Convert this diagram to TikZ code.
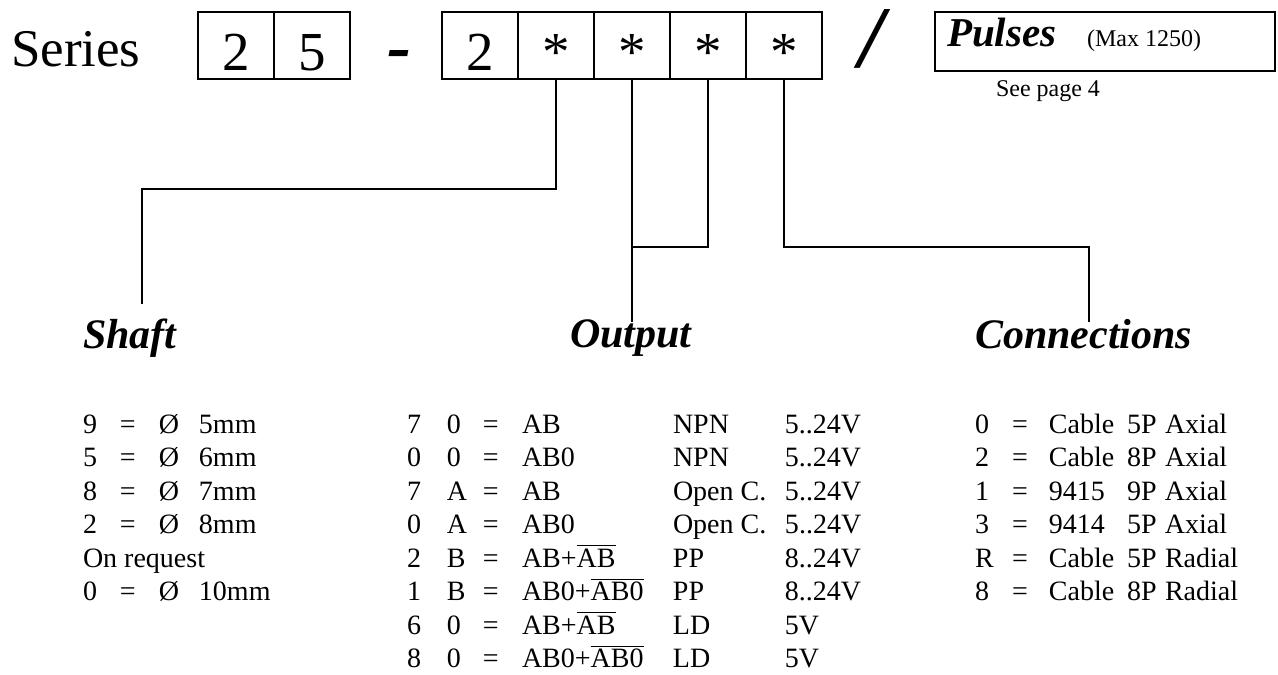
\documentclass[tikz,border=0pt]{standalone}
\usepackage{fontspec}
\setmainfont{Liberation Serif}
\usepackage{tikz}
\newcommand{\tcell}[2]{\makebox[#1][l]{#2}}
\newcommand{\ovl}[1]{$\overline{\mbox{#1}}$}

\begin{document}
\begin{tikzpicture}[x=0.5pt, y=-0.5pt,
  every node/.style={outer sep=0pt},
  cell/.style={draw, line width=1.3pt, minimum width=38pt, minimum height=33.5pt, inner sep=0pt,
    text height=25.5pt, text depth=0pt, font=\fontsize{27.5}{27.5}\selectfont},
  link/.style={line width=0.85pt},
  head/.style={anchor=base west, inner sep=0pt, font=\fontsize{21}{21}\selectfont\bfseries\itshape},
  row/.style={anchor=base west, inner sep=0pt, font=\fontsize{14}{14}\selectfont},
  note/.style={anchor=base west, inner sep=0pt, font=\fontsize{12}{12}\selectfont}]
\useasboundingbox (0,0) rectangle (1278,674);

% code line
\node[anchor=base west, inner sep=0pt, font=\fontsize{26.5}{26.5}\selectfont] (series) at (11,67) {Series};
\node[cell] (a1) at (236,45.5) {2};
\node[cell] (a2) at (312,45.5) {5};
\node[anchor=base, inner sep=0pt, font=\fontsize{36}{36}\selectfont\bfseries\itshape] (dash) at (399,71) {-};
\node[cell] (b1) at (480,45.5) {2};
\node[cell] (b2) at (556,45.5) {*};
\node[cell] (b3) at (632,45.5) {*};
\node[cell] (b4) at (708,45.5) {*};
\node[cell] (b5) at (784,45.5) {*};
\node[anchor=base, inner sep=0pt, font=\fontsize{44}{44}\selectfont\bfseries\itshape] (slash) at (872,68) {/};
\node[draw, line width=1.3pt, minimum width=170pt, minimum height=29.5pt, inner sep=0pt] (pulses) at (1105,41.5) {};
\node[anchor=base west, inner sep=0pt, font=\fontsize{20.5}{20.5}\selectfont\bfseries\itshape] (ptitle) at (947,47) {Pulses};
\node[note] (pmax) at (1087,47) {(Max 1250)};
\node[note] (seepage) at (996,97) {See page 4};

% headings
\node[head] (shaft) at (83,348) {Shaft};
\node[head] (output) at (570,347) {Output};
\node[head] (conn) at (975,348) {Connections};

% leader lines
\coordinate (shaftbend) at (142,189);
\coordinate (shafttip) at (142,304);
\coordinate (outjoin) at (632,247);
\coordinate (outtip) at (632,322);
\coordinate (connbend) at (1089,247);
\coordinate (conntip) at (1089,322);
\draw[link] (b2.south) |- (shaftbend) -- (shafttip);
\draw[link] (b3.south) -- (outtip);
\draw[link] (b4.south) |- (outjoin);
\draw[link] (b5.south) |- (connbend) -- (conntip);

% shaft table
\node[row] (s1) at (83,433) {\tcell{18.5pt}{9}\tcell{19.5pt}{=}\tcell{20pt}{Ø}5mm};
\node[row] (s2) at (83,466.5) {\tcell{18.5pt}{5}\tcell{19.5pt}{=}\tcell{20pt}{Ø}6mm};
\node[row] (s3) at (83,500) {\tcell{18.5pt}{8}\tcell{19.5pt}{=}\tcell{20pt}{Ø}7mm};
\node[row] (s4) at (83,533.5) {\tcell{18.5pt}{2}\tcell{19.5pt}{=}\tcell{20pt}{Ø}8mm};
\node[row] (s5) at (83,567) {On request};
\node[row] (s6) at (83,600.5) {\tcell{18.5pt}{0}\tcell{19.5pt}{=}\tcell{20pt}{Ø}10mm};

% output table
\node[row] (o1) at (407,433) {\tcell{20pt}{7}\tcell{18pt}{0}\tcell{19.5pt}{=}\tcell{75.5pt}{AB}\tcell{56pt}{NPN}5..24V};
\node[row] (o2) at (407,466.5) {\tcell{20pt}{0}\tcell{18pt}{0}\tcell{19.5pt}{=}\tcell{75.5pt}{AB0}\tcell{56pt}{NPN}5..24V};
\node[row] (o3) at (407,500) {\tcell{20pt}{7}\tcell{18pt}{A}\tcell{19.5pt}{=}\tcell{75.5pt}{AB}\tcell{56pt}{Open C.}5..24V};
\node[row] (o4) at (407,533.5) {\tcell{20pt}{0}\tcell{18pt}{A}\tcell{19.5pt}{=}\tcell{75.5pt}{AB0}\tcell{56pt}{Open C.}5..24V};
\node[row] (o5) at (407,567) {\tcell{20pt}{2}\tcell{18pt}{B}\tcell{19.5pt}{=}\tcell{75.5pt}{AB+\ovl{AB}}\tcell{56pt}{PP}8..24V};
\node[row] (o6) at (407,600.5) {\tcell{20pt}{1}\tcell{18pt}{B}\tcell{19.5pt}{=}\tcell{75.5pt}{AB0+\ovl{AB0}}\tcell{56pt}{PP}8..24V};
\node[row] (o7) at (407,634) {\tcell{20pt}{6}\tcell{18pt}{0}\tcell{19.5pt}{=}\tcell{75.5pt}{AB+\ovl{AB}}\tcell{56pt}{LD}5V};
\node[row] (o8) at (407,667.5) {\tcell{20pt}{8}\tcell{18pt}{0}\tcell{19.5pt}{=}\tcell{75.5pt}{AB0+\ovl{AB0}}\tcell{56pt}{LD}5V};

% connections table
\node[row] (k1) at (975,433) {\tcell{18.5pt}{0}\tcell{18.5pt}{=}\tcell{39pt}{Cable}\tcell{19pt}{5P}Axial};
\node[row] (k2) at (975,466.5) {\tcell{18.5pt}{2}\tcell{18.5pt}{=}\tcell{39pt}{Cable}\tcell{19pt}{8P}Axial};
\node[row] (k3) at (975,500) {\tcell{18.5pt}{1}\tcell{18.5pt}{=}\tcell{39pt}{9415}\tcell{19pt}{9P}Axial};
\node[row] (k4) at (975,533.5) {\tcell{18.5pt}{3}\tcell{18.5pt}{=}\tcell{39pt}{9414}\tcell{19pt}{5P}Axial};
\node[row] (k5) at (975,567) {\tcell{18.5pt}{R}\tcell{18.5pt}{=}\tcell{39pt}{Cable}\tcell{19pt}{5P}Radial};
\node[row] (k6) at (975,600.5) {\tcell{18.5pt}{8}\tcell{18.5pt}{=}\tcell{39pt}{Cable}\tcell{19pt}{8P}Radial};
\end{tikzpicture}
\end{document}
